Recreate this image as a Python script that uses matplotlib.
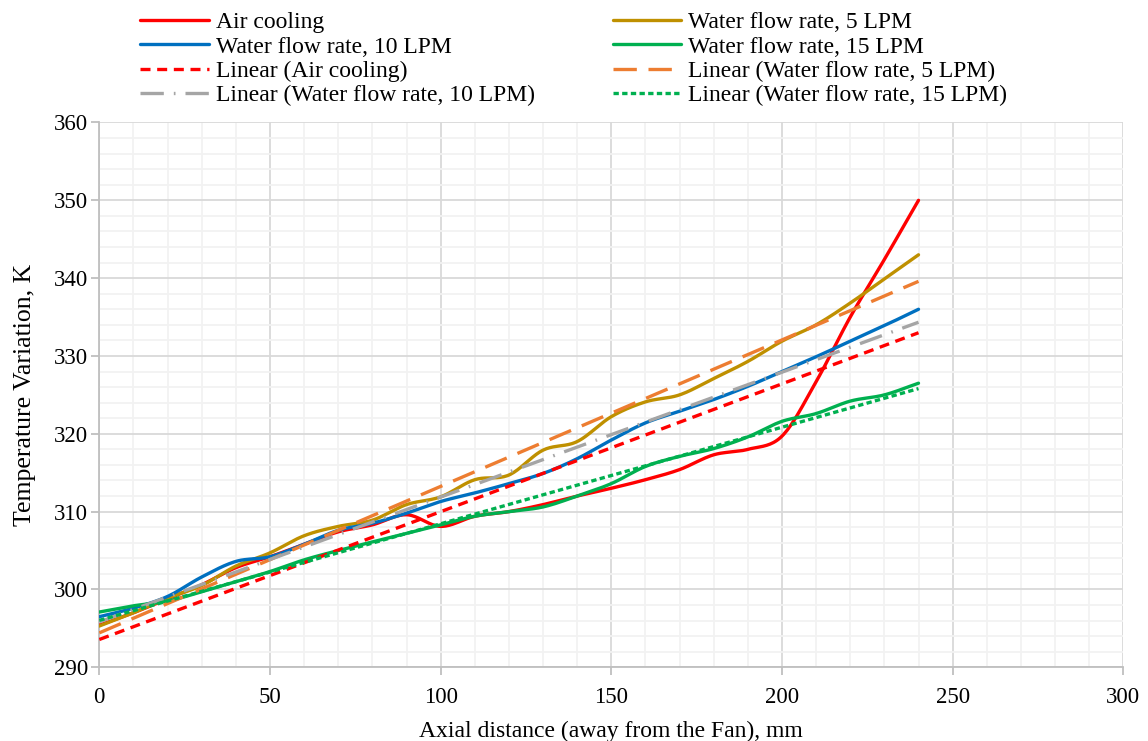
import numpy as np
import matplotlib.pyplot as plt
from matplotlib.ticker import MultipleLocator

plt.rcParams['font.family'] = ['Liberation Serif', 'DejaVu Serif']

# axial distance, mm
dist = [0, 10, 20, 30, 40, 50, 60, 70, 80, 90, 100, 110, 120,
        130, 140, 150, 160, 170, 180, 190, 200, 210, 220, 230, 240]

# temperature, K
air_cooling = [295.4, 297.0, 298.8, 300.6, 302.8, 304.2, 305.8, 307.4, 308.3, 309.6, 308.1, 309.4, 310.0,
               310.9, 312.0, 313.0, 314.1, 315.4, 317.3, 318.0, 319.7, 326.7, 335.0, 342.4, 350.0]
water_5lpm = [295.3, 297.0, 298.9, 300.5, 303.0, 304.7, 306.9, 308.1, 308.9, 310.9, 311.9, 314.1, 314.7,
              317.9, 319.0, 322.2, 324.1, 325.0, 327.1, 329.3, 331.9, 334.0, 336.8, 339.9, 343.0]
water_10lpm = [296.5, 297.6, 299.1, 301.6, 303.6, 304.2, 305.8, 307.6, 308.5, 309.8, 311.3, 312.4, 313.6,
               314.9, 316.8, 319.2, 321.4, 322.9, 324.4, 326.1, 328.0, 329.9, 331.9, 333.9, 336.0]
water_15lpm = [297.1, 297.9, 298.5, 299.7, 301.0, 302.3, 303.8, 305.0, 306.1, 307.2, 308.3, 309.4, 310.0,
               310.6, 312.0, 313.6, 315.8, 317.1, 318.1, 319.6, 321.6, 322.6, 324.2, 325.0, 326.5]

series_names = ['Air cooling', 'Water flow rate, 5 LPM', 'Water flow rate, 10 LPM', 'Water flow rate, 15 LPM']
series_data = [air_cooling, water_5lpm, water_10lpm, water_15lpm]
line_colors = ['#ff0000', '#bf9000', '#0070c0', '#00b050']
trend_colors = ['#ff0000', '#ed7d31', '#a5a5a5', '#00b050']
trend_styles = [(0, (3, 2)), (0, (7, 3.5)), (0, (7, 3, 0.5, 3)), (0, (1.6, 1))]


def smooth(x, y, n=20):
    # Catmull-Rom spline, close to Excel's smoothed line
    x = np.asarray(x, float)
    y = np.asarray(y, float)
    px = np.concatenate(([2*x[0]-x[1]], x, [2*x[-1]-x[-2]]))
    py = np.concatenate(([2*y[0]-y[1]], y, [2*y[-1]-y[-2]]))
    t = np.linspace(0, 1, n, endpoint=False)
    xs, ys = [], []
    for i in range(1, len(px)-2):
        for p, out in ((px, xs), (py, ys)):
            p0, p1, p2, p3 = p[i-1], p[i], p[i+1], p[i+2]
            out.extend(0.5*((2*p1) + (-p0+p2)*t + (2*p0-5*p1+4*p2-p3)*t**2 + (-p0+3*p1-3*p2+p3)*t**3))
    xs.append(x[-1])
    ys.append(y[-1])
    return np.array(xs), np.array(ys)


fig = plt.figure(figsize=(11.48, 7.41), dpi=100)
ax = fig.add_axes([0.0865, 0.0995, 0.892, 0.7352])

solid_handles = []
for name, vals, c in zip(series_names, series_data, line_colors):
    sx, sy = smooth(dist, vals)
    h, = ax.plot(sx, sy, color=c, lw=2.4, label=name, zorder=3, solid_capstyle='round')
    solid_handles.append(h)

trend_handles = []
xd = np.array(dist, float)
for name, vals, c, ls in zip(series_names, series_data, trend_colors, trend_styles):
    k, b = np.polyfit(xd, vals, 1)
    h, = ax.plot(xd[[0, -1]], k*xd[[0, -1]] + b, color=c, lw=2.4, linestyle=ls,
                 label='Linear (' + name + ')', zorder=4)
    trend_handles.append(h)

ax.set_xlim(0, 300)
ax.set_ylim(290, 360)
ax.xaxis.set_major_locator(MultipleLocator(50))
ax.xaxis.set_minor_locator(MultipleLocator(10))
ax.yaxis.set_major_locator(MultipleLocator(10))
ax.yaxis.set_minor_locator(MultipleLocator(2))
ax.grid(which='major', color='#d9d9d9', lw=1.3)
ax.grid(which='minor', color='#f2f2f2', lw=1.3)
ax.set_axisbelow(True)
for s in ['top', 'right']:
    ax.spines[s].set_visible(False)
for s in ['left', 'bottom']:
    ax.spines[s].set_color('#bfbfbf')
    ax.spines[s].set_linewidth(1.3)
ax.tick_params(which='major', direction='out', length=6, color='#bfbfbf', width=1.3, labelsize=16.5)
ax.tick_params(axis='x', pad=8.5)
ax.tick_params(axis='y', pad=2)
ax.tick_params(which='minor', length=0)
ax.set_xlabel('Axial distance (away from the Fan), mm', fontsize=17, labelpad=9)
ax.set_ylabel('Temperature Variation, K', fontsize=18.5, labelpad=13)

handles = [solid_handles[0], solid_handles[2], trend_handles[0], trend_handles[2],
           solid_handles[1], solid_handles[3], trend_handles[1], trend_handles[3]]
fig.legend(handles=handles, labels=[h.get_label() for h in handles], ncol=2,
           loc='upper left', bbox_to_anchor=(0.1138, 0.997), frameon=False, fontsize=17,
           handlelength=2.9, handletextpad=0.3, labelspacing=0.12, columnspacing=3.3,
           borderaxespad=0)

fig.savefig('out.png', dpi=100)
